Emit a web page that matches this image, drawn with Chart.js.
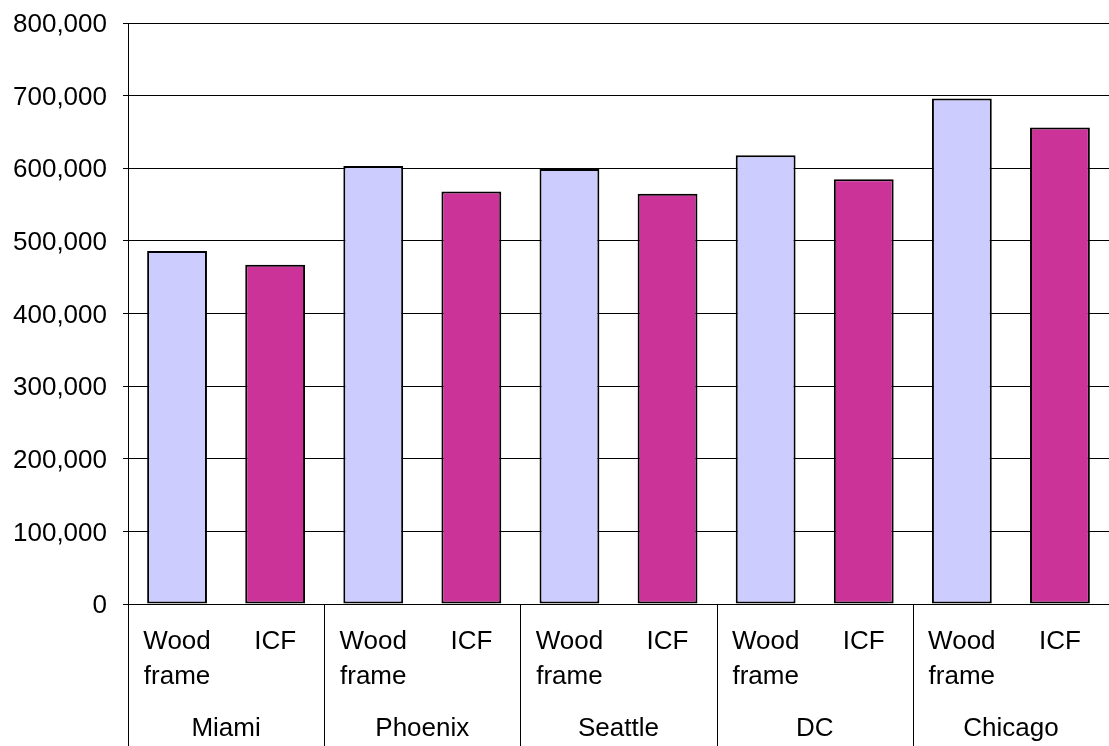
<!DOCTYPE html>
<html>
<head>
<meta charset="utf-8">
<script src="https://cdn.jsdelivr.net/npm/chart.js@4"></script>
<style>
    html, body { margin: 0; padding: 0; background: #fff; }
    #wrap { width: 1109px; height: 746px; }
</style>
</head>
<body>
<div id="wrap"><canvas id="chart-cost"></canvas></div>
<script>
const cities = ["Miami", "Phoenix", "Seattle", "DC", "Chicago"];
const buildTypes = [["Wood", "frame"], "ICF"];
const woodFrame = [486000, 603000, 599000, 618000, 696000];
const icf = [467000, 568000, 565000, 585000, 656000];
const yTicks = [0, 100000, 200000, 300000, 400000, 500000, 600000, 700000, 800000];

const woodColor = "#CCCCFF";
const icfColor = "#CC3399";

// one bar per (city, type) pair
const barLabels = [];
const barValues = [];
const barColors = [];
cities.forEach((city, i) => {
    barLabels.push(buildTypes[0], buildTypes[1]);
    barValues.push(woodFrame[i], icf[i]);
    barColors.push(woodColor, icfColor);
});

const font = { family: "'Liberation Sans', Arial, sans-serif", size: 26 };

// vertical separators between city groups, below the plot
const groupLines = {
    id: "groupLines",
    afterDraw(chart) {
        const x = chart.scales.x;
        const ctx = chart.ctx;
        const top = chart.chartArea.bottom;
        const bottom = chart.height;
        ctx.save();
        ctx.strokeStyle = "#000";
        ctx.lineWidth = 1;
        for (let g = 0; g < cities.length; g++) {
            let px;
            if (g === 0) {
                px = chart.chartArea.left;
            } else {
                px = (x.getPixelForValue(g * 2 - 1) + x.getPixelForValue(g * 2)) / 2;
            }
            px = Math.round(px) + 0.5;
            ctx.beginPath();
            ctx.moveTo(px, top);
            ctx.lineTo(px, bottom);
            ctx.stroke();
        }
        ctx.restore();
    },
};

new Chart(document.getElementById("chart-cost"), {
    type: "bar",
    data: {
        labels: barLabels,
        datasets: [
            {
                label: "Cost",
                data: barValues,
                backgroundColor: barColors,
                borderColor: "#000",
                borderWidth: 2,
                borderSkipped: false,
                barPercentage: 0.61,
                categoryPercentage: 1,
            },
        ],
    },
    options: {
        responsive: true,
        maintainAspectRatio: false,
        animation: false,
        layout: { padding: { left: 10, top: 0, right: 0, bottom: 0 } },
        plugins: {
            legend: { display: false },
            tooltip: { enabled: false },
        },
        scales: {
            x: {
                grid: { display: false, drawTicks: false },
                border: { display: true, color: "#000", width: 1 },
                ticks: {
                    color: "#000",
                    font: { ...font, lineHeight: 1.35 },
                    padding: 20,
                    maxRotation: 0,
                    autoSkip: false,
                },
                afterFit: (axis) => { axis.height = 90; },
            },
            x2: {
                type: "category",
                position: "bottom",
                labels: cities,
                grid: { display: false, drawTicks: false },
                border: { display: false },
                ticks: { color: "#000", font: font, padding: 19 },
                afterFit: (axis) => { axis.height = 52; },
            },
            y: {
                min: 0,
                max: 800000,
                afterBuildTicks: (axis) => {
                    axis.ticks = yTicks.map((v) => ({ value: v }));
                },
                afterFit: (axis) => {
                    axis.width = 118;
                    axis.paddingTop = 23;
                },
                grid: { color: "#000", lineWidth: 1, tickLength: 5 },
                border: { display: true, color: "#000", width: 1 },
                ticks: {
                    color: "#000",
                    font: font,
                    padding: 16,
                    labelOffset: 2,
                    callback: (v) => v.toLocaleString("en-US"),
                },
            },
        },
    },
    plugins: [groupLines],
});
</script>
</body>
</html>
